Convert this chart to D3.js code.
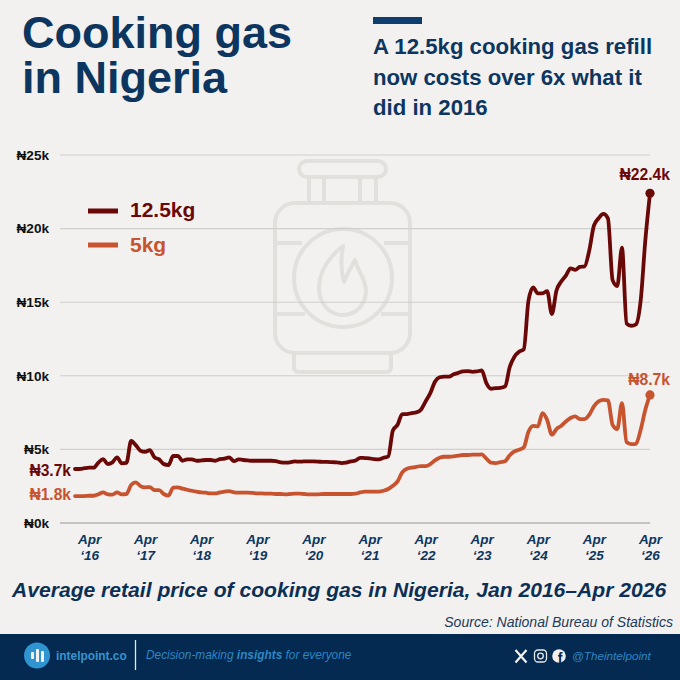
<!DOCTYPE html>
<html><head><meta charset="utf-8">
<style>html,body{margin:0;padding:0;background:#f2f1ef}svg{display:block}text{font-family:"Liberation Sans",Arial,sans-serif}</style>
<script src="https://cdn.jsdelivr.net/npm/d3@7/dist/d3.min.js"></script>
</head><body><svg id="c" width="680" height="680"></svg>
<script>
// Monthly values (thousand naira), Jan 2016 – Apr 2026
const kg125 = [3.67,3.67,3.72,3.76,3.76,4.1,4.34,4.0,4.12,4.46,4.05,4.08,5.57,5.29,4.91,4.84,4.95,4.46,4.32,4.0,3.94,4.55,4.55,4.23,4.32,4.32,4.23,4.25,4.28,4.28,4.23,4.34,4.37,4.46,4.2,4.32,4.28,4.25,4.23,4.23,4.23,4.23,4.23,4.2,4.12,4.1,4.12,4.18,4.17,4.18,4.18,4.18,4.17,4.15,4.15,4.13,4.12,4.07,4.1,4.19,4.25,4.43,4.41,4.39,4.34,4.32,4.43,4.52,6.29,6.67,7.4,7.4,7.47,7.51,7.7,8.26,8.82,9.6,9.9,9.95,9.95,10.1,10.2,10.3,10.32,10.27,10.3,10.36,9.5,9.12,9.16,9.18,9.28,10.6,11.3,11.63,11.8,15.1,16.0,15.6,15.6,15.75,14.2,15.8,16.4,16.8,17.3,17.2,17.4,17.44,18.5,20.2,20.7,21.0,20.7,16.5,16.1,18.7,13.55,13.4,13.5,15.1,19.2,22.4];
const kg5 = [1.83,1.83,1.83,1.85,1.85,1.95,2.08,1.95,1.93,2.08,1.95,1.97,2.58,2.76,2.51,2.42,2.44,2.24,2.24,1.97,1.86,2.4,2.42,2.33,2.26,2.19,2.13,2.08,2.06,2.01,2.01,2.08,2.13,2.17,2.08,2.06,2.06,2.06,2.04,2.01,2.01,1.99,1.99,1.97,1.97,1.95,1.97,1.99,1.99,1.97,1.95,1.95,1.95,1.97,1.97,1.97,1.97,1.97,1.97,1.97,1.99,2.08,2.13,2.13,2.13,2.13,2.19,2.31,2.53,2.83,3.44,3.69,3.76,3.82,3.87,3.87,4.0,4.25,4.43,4.5,4.5,4.52,4.57,4.62,4.62,4.64,4.64,4.66,4.37,4.1,4.07,4.14,4.2,4.6,4.86,4.98,5.14,6.2,6.6,6.56,7.47,7.0,6.0,6.38,6.6,6.9,7.13,7.24,7.06,7.06,7.35,7.92,8.26,8.37,8.33,6.67,6.38,8.14,5.48,5.36,5.38,6.33,7.69,8.7];
const yTicks = [0,5,10,15,20,25];
const tickMonths = [3,15,27,39,51,63,75,87,99,111,123];
const tickYears = ["‘16","‘17","‘18","‘19","‘20","‘21","‘22","‘23","‘24","‘25","‘26"];
const title = ["Cooking gas","in Nigeria"];
const subtitle = ["A 12.5kg cooking gas refill","now costs over 6x what it","did in 2016"];

const NAVY="#0c365f", DARK="#6a0808", ORANGE="#c8532f", ICON="#e1e0dd";
const svg=d3.select("#c");
svg.append("rect").attr("width",680).attr("height",680).attr("fill","#f2f1ef");

const x=d3.scaleLinear().domain([0,123]).range([75,650]);
const y=d3.scaleLinear().domain([0,25]).range([523,155]);

// watermark gas bottle
const ic=svg.append("g").attr("fill","none").attr("stroke",ICON).attr("stroke-width",4).attr("stroke-linejoin","round");
ic.append("rect").attr("x",299).attr("y",161).attr("width",87).attr("height",16).attr("rx",8);
[309,324,360,376].forEach(v=>ic.append("line").attr("x1",v).attr("x2",v).attr("y1",177).attr("y2",203));
ic.append("rect").attr("x",275).attr("y",203).attr("width",135).attr("height",150).attr("rx",20);
ic.append("path").attr("d","M294 353V367Q294 372 299 372H386Q391 372 391 367V353");
ic.append("circle").attr("cx",343).attr("cy",278).attr("r",49);
ic.append("path").attr("d","M275 243H302M384 243H410M275 314H305M381 314H410");
ic.append("path").attr("d","M343 246C328 258 319 272 319 288C319 304 330 315 343 315C356 315 366 304 366 291C366 279 358 272 355 260C351 267 347 274 344 282C341 272 341 258 343 246Z");

// y axis
const yAxis=d3.axisLeft(y).tickValues(yTicks).tickSize(0).tickPadding(0).tickFormat(d=>"₦"+d+"k");
const gy=svg.append("g").attr("transform","translate(49,0)").call(yAxis);
gy.select(".domain").remove();
gy.selectAll("text").attr("fill","#111").attr("font-size",13.6).attr("font-weight",700).attr("font-family","Liberation Sans");
svg.append("g").selectAll("line").data(yTicks).join("line")
  .attr("x1",60).attr("x2",650).attr("y1",d=>y(d)).attr("y2",d=>y(d))
  .attr("stroke",d=>d===0?"#b4b3b0":"#d0cfcc").attr("stroke-width",d=>d===0?1.6:1.1);

// x axis
const xAxis=d3.axisBottom(x).tickValues(tickMonths).tickSize(0).tickFormat(()=>"");
const gx=svg.append("g").attr("transform","translate(0,523)").call(xAxis);
gx.select(".domain").remove();
gx.selectAll(".tick text").each(function(d,i){
  const t=d3.select(this).text(null).attr("y",0).attr("dy",null).attr("fill",NAVY)
    .attr("font-size",13.5).attr("font-weight",700).attr("font-style","italic").attr("font-family","Liberation Sans");
  t.append("tspan").attr("x",0).attr("y",21).text("Apr");
  t.append("tspan").attr("x",0).attr("y",37).text(tickYears[i]);
});

// lines
const line=d3.line().x((d,i)=>x(i)).y(d=>y(d)).curve(d3.curveMonotoneX);
[[kg5,ORANGE],[kg125,DARK]].forEach(([s,c])=>{
  svg.append("path").datum(s).attr("d",line).attr("fill","none").attr("stroke",c)
    .attr("stroke-width",3.8).attr("stroke-linejoin","round").attr("stroke-linecap","round");
  svg.append("circle").attr("cx",x(123)).attr("cy",y(s[123])).attr("r",4.6).attr("fill",c);
});

function txt(a,b,s,o){const t=svg.append("text").attr("x",a).attr("y",b).text(s);
  Object.entries(o).forEach(([k,v])=>t.attr(k,v));return t;}
const bold=(c,sz,anchor)=>({fill:c,"font-size":sz,"font-weight":700,"text-anchor":anchor||"start"});

// data labels
txt(71,476,"₦3.7k",bold(DARK,15.6,"end"));
txt(71,500,"₦1.8k",bold(ORANGE,15.6,"end"));
txt(670,180,"₦22.4k",bold(DARK,15.7,"end"));
txt(670,385,"₦8.7k",bold(ORANGE,15.7,"end"));

// legend
svg.append("line").attr("x1",88).attr("x2",118).attr("y1",211).attr("y2",211).attr("stroke",DARK).attr("stroke-width",5);
svg.append("line").attr("x1",88).attr("x2",118).attr("y1",245).attr("y2",245).attr("stroke",ORANGE).attr("stroke-width",5);
txt(130,217,"12.5kg",bold(DARK,21));
txt(130,252,"5kg",bold(ORANGE,21));

// headings
title.forEach((s,i)=>txt(22,48+i*45,s,bold(NAVY,45)));
svg.append("rect").attr("x",373).attr("y",17).attr("width",49).attr("height",7).attr("fill","#0f3d6e");
subtitle.forEach((s,i)=>txt(373,54+i*30.5,s,{fill:NAVY,"font-size":22.2,"font-weight":700,"font-family":"Inter"}));

// caption
txt(12,597,"Average retail price of cooking gas in Nigeria, Jan 2016–Apr 2026",{fill:"#0c2f56","font-size":21.1,"font-weight":700,"font-style":"italic"});
txt(673,627,"Source: National Bureau of Statistics",{fill:"#1d3b5c","font-size":14.05,"font-style":"italic","text-anchor":"end"});

// footer
const BLUE="#2f86c1";
svg.append("rect").attr("y",634).attr("width",680).attr("height",46).attr("fill","#042a52");
svg.append("circle").attr("cx",37).attr("cy",655.5).attr("r",13).attr("fill","#2f94d0");
[[31,652,3,7],[36,649,3,13],[41,651,3,11]].forEach(r=>svg.append("rect").attr("x",r[0]).attr("y",r[1]).attr("width",r[2]).attr("height",r[3]).attr("rx",1).attr("fill","#f2f1ef"));
txt(56,660,"intelpoint.co",bold("#3b93cc",11.9));
svg.append("line").attr("x1",135.5).attr("x2",135.5).attr("y1",640).attr("y2",670).attr("stroke","#e6e6e6").attr("stroke-width",1.3);
const tg=txt(146,659,"Decision-making ",{fill:BLUE,"font-size":11.85,"font-style":"italic"});
tg.append("tspan").attr("font-weight",700).text("insights");
tg.append("tspan").text(" for everyone");
// social glyphs
svg.append("path").attr("d","M515.5 650L526.5 662.5M526.5 650L515.5 662.5").attr("stroke","#f2f1ef").attr("stroke-width",2.2).attr("fill","none");
svg.append("rect").attr("x",534.5).attr("y",650).attr("width",12).attr("height",12).attr("rx",3.5).attr("fill","none").attr("stroke","#e8e8e8").attr("stroke-width",1.3);
svg.append("circle").attr("cx",540.5).attr("cy",656).attr("r",2.8).attr("fill","none").attr("stroke","#e8e8e8").attr("stroke-width",1.3);
svg.append("circle").attr("cx",559).attr("cy",656).attr("r",6.8).attr("fill","#f2f1ef");
txt(560,663,"f",{fill:"#042a52","font-size":14,"font-weight":700,"text-anchor":"middle"});
txt(572,660,"@Theintelpoint",{fill:BLUE,"font-size":11.7,"font-style":"italic"});
</script></body></html>
